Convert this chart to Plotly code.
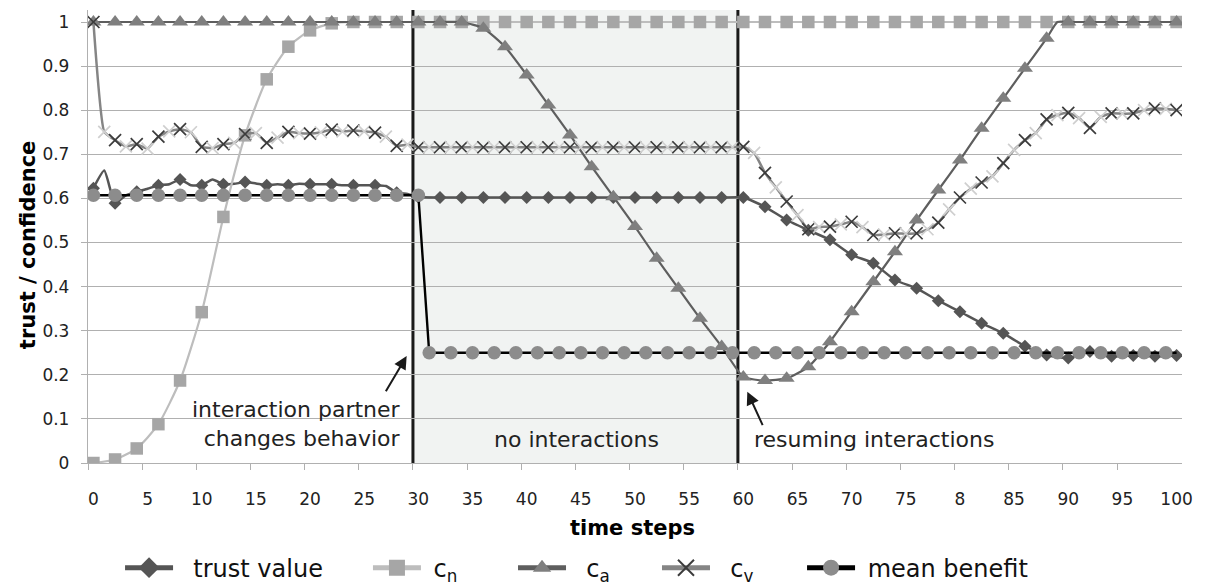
import plotly.graph_objects as go

FONT = "DejaVu Sans"

# ---------------- data ----------------
x_tick_values = [0, 5, 10, 15, 20, 25, 30, 35, 40, 45, 50, 55, 60, 65, 70, 75, 80, 85, 90, 95, 100]
x_tick_labels = ["0", "5", "10", "15", "20", "25", "30", "35", "40", "45", "50", "55", "60",
                 "65", "70", "75", "8", "85", "90", "95", "100"]
y_tick_values = [0, 0.1, 0.2, 0.3, 0.4, 0.5, 0.6, 0.7, 0.8, 0.9, 1.0]
y_tick_labels = ["0", "0.1", "0.2", "0.3", "0.4", "0.5", "0.6", "0.7", "0.8", "0.9", "1"]

phase_boundaries = [29.5, 59.5]

trust_steps = list(range(0, 31)) + list(range(32, 101, 2))
trust_values = [0.623, 0.663, 0.589, 0.607, 0.615, 0.622, 0.630, 0.632, 0.643, 0.630,
                0.630, 0.643, 0.632, 0.633, 0.637, 0.634, 0.630, 0.632, 0.630, 0.633,
                0.632, 0.632, 0.632, 0.630, 0.630, 0.630, 0.630, 0.628, 0.613, 0.610,
                0.603,
                0.602, 0.602, 0.602, 0.602, 0.602, 0.602, 0.602, 0.602, 0.602, 0.602,
                0.602, 0.602, 0.602, 0.602, 0.602,
                0.581, 0.551, 0.528, 0.506, 0.472, 0.453, 0.415, 0.396, 0.368, 0.343,
                0.317, 0.294, 0.265, 0.245, 0.238, 0.253, 0.242, 0.244, 0.242, 0.244]

cn_steps = list(range(0, 101, 2))
cn_values = [0.0, 0.008, 0.033, 0.088, 0.187, 0.342, 0.558, 0.743, 0.870, 0.944,
             0.981, 0.997, 1.0, 1.0, 1.0, 1.0, 1.0, 1.0, 1.0, 1.0,
             1.0, 1.0, 1.0, 1.0, 1.0, 1.0, 1.0, 1.0, 1.0, 1.0,
             1.0, 1.0, 1.0, 1.0, 1.0, 1.0, 1.0, 1.0, 1.0, 1.0,
             1.0, 1.0, 1.0, 1.0, 1.0, 1.0, 1.0, 1.0, 1.0, 1.0, 1.0]

ca_steps = list(range(0, 89, 2)) + [89] + list(range(90, 101, 2))
ca_values = [1.0, 1.0, 1.0, 1.0, 1.0, 1.0, 1.0, 1.0, 1.0, 1.0,
             1.0, 1.0, 1.0, 1.0, 1.0, 1.0, 1.0, 1.0,
             0.986, 0.944, 0.880, 0.812, 0.744, 0.672, 0.604, 0.536, 0.464, 0.396,
             0.328, 0.264, 0.195, 0.187, 0.192, 0.218, 0.275, 0.343, 0.411, 0.479,
             0.551, 0.619, 0.687, 0.759, 0.827, 0.895, 0.963,
             1.0,
             1.0, 1.0, 1.0, 1.0, 1.0, 1.0]

cv_steps = list(range(0, 101))
cv_values = [1.0, 0.751, 0.732, 0.718, 0.723, 0.713, 0.740, 0.752, 0.757, 0.750,
             0.717, 0.714, 0.723, 0.726, 0.746, 0.748, 0.726, 0.738, 0.751, 0.748,
             0.747, 0.750, 0.756, 0.752, 0.754, 0.752, 0.749, 0.740, 0.719, 0.722,
             0.716,
             0.716, 0.716, 0.716, 0.716, 0.716, 0.716, 0.716, 0.716, 0.716, 0.716,
             0.716, 0.716, 0.716, 0.716, 0.716, 0.716, 0.716, 0.716, 0.716, 0.716,
             0.716, 0.716, 0.716, 0.716, 0.716, 0.716, 0.716, 0.716, 0.716,
             0.717, 0.703, 0.658, 0.625, 0.593, 0.562, 0.530, 0.535, 0.536, 0.541,
             0.547, 0.535, 0.517, 0.518, 0.521, 0.520, 0.521, 0.530, 0.545, 0.575,
             0.602, 0.622, 0.636, 0.650, 0.680, 0.710, 0.732, 0.748, 0.779, 0.789,
             0.794, 0.782, 0.760, 0.785, 0.793, 0.792, 0.793, 0.800, 0.804, 0.803,
             0.800]

mean_steps = list(range(0, 31, 2)) + list(range(31, 100, 2)) + [100]
mean_values = [0.607, 0.607, 0.607, 0.607, 0.607, 0.607, 0.607, 0.607,
               0.607, 0.607, 0.607, 0.607, 0.607, 0.607, 0.607, 0.607,
               0.250, 0.250, 0.250, 0.250, 0.250, 0.250, 0.250, 0.250, 0.250, 0.250,
               0.250, 0.250, 0.250, 0.250, 0.250, 0.250, 0.250, 0.250, 0.250, 0.250,
               0.250, 0.250, 0.250, 0.250, 0.250, 0.250, 0.250, 0.250, 0.250, 0.250,
               0.250, 0.250, 0.250, 0.250, 0.250,
               0.250]

# ---------------- styles ----------------
TRANSPARENT = "rgba(0,0,0,0)"
C_TRUST = "#555555"
C_CN_M, C_CN_L = "#A6A6A6", "#BDBDBD"
C_CA_M, C_CA_L = "#7F7F7F", "#5E5E5E"
C_CV_M, C_CV_L, C_CV_LIGHT = "#3C3C3C", "#858585", "#CFCFCF"
C_MB_M, C_MB_L = "#8C8C8C", "#000000"
GRID = "#B0B0B0"

fig = go.Figure()

# shaded "no interactions" region and phase boundaries
fig.add_shape(type="rect", xref="x", yref="paper", x0=phase_boundaries[0], x1=phase_boundaries[1],
              y0=0, y1=1, fillcolor="#F1F3F2", line=dict(width=0), layer="below")
for xb in phase_boundaries:
    fig.add_shape(type="line", xref="x", yref="paper", x0=xb, x1=xb, y0=0, y1=1,
                  line=dict(color="#1A1A1A", width=3), layer="between")

# trust value
fig.add_trace(go.Scatter(
    x=trust_steps, y=trust_values, mode="lines+markers", showlegend=False,
    line=dict(color=C_TRUST, width=2.5, shape="spline", smoothing=0.5),
    marker=dict(symbol="diamond", size=10,
                color=[C_TRUST if s % 2 == 0 else TRANSPARENT for s in trust_steps])))

# c_n
fig.add_trace(go.Scatter(
    x=cn_steps, y=cn_values, mode="lines+markers", showlegend=False,
    line=dict(color=C_CN_L, width=2.2, shape="spline", smoothing=0.6),
    marker=dict(symbol="square", size=12.5, color=C_CN_M)))

# c_a
fig.add_trace(go.Scatter(
    x=ca_steps, y=ca_values, mode="lines+markers", showlegend=False,
    line=dict(color=C_CA_L, width=2.2, shape="spline", smoothing=0.5),
    marker=dict(symbol="triangle-up", size=14,
                color=[C_CA_M if s % 2 == 0 else TRANSPARENT for s in ca_steps])))

# c_v
fig.add_trace(go.Scatter(
    x=cv_steps, y=cv_values, mode="lines+markers", showlegend=False,
    line=dict(color=C_CV_L, width=2.5, shape="spline", smoothing=0.4),
    marker=dict(symbol="x-thin", size=12,
                line=dict(width=1.7,
                          color=[C_CV_M if s % 2 == 0 else C_CV_LIGHT for s in cv_steps]))))

# mean benefit
fig.add_trace(go.Scatter(
    x=mean_steps, y=mean_values, mode="lines+markers", showlegend=False,
    line=dict(color=C_MB_L, width=2.4),
    marker=dict(symbol="circle", size=13.5,
                color=[C_MB_M if s != 100 else TRANSPARENT for s in mean_steps])))

# legend entries (larger symbols as in the reference legend), each placed individually
NB = "\u00a0"
legend_specs = [
    ("legend", 0.0293, NB + NB + "trust value", C_TRUST, dict(symbol="diamond", size=16, color=C_TRUST)),
    ("legend2", 0.2559, NB + "c<sub>n</sub>", C_CN_L, dict(symbol="square", size=21, color=C_CN_M)),
    ("legend3", 0.3885, NB + NB + "c<sub>a</sub>", C_CA_L, dict(symbol="triangle-up", size=22, color=C_CA_M)),
    ("legend4", 0.5201, NB + NB + "c<sub>v</sub>", C_CV_L,
     dict(symbol="x-thin", size=19, line=dict(width=2, color=C_CV_M))),
    ("legend5", 0.6527, NB + "mean benefit", C_MB_L, dict(symbol="circle", size=21, color=C_MB_M)),
]
legend_layouts = {}
for lg, lx, name, lc, mk in legend_specs:
    fig.add_trace(go.Scatter(x=[None], y=[None], mode="lines+markers", name=name, legend=lg,
                             line=dict(color=lc, width=5), marker=mk))
    legend_layouts[lg] = dict(orientation="h", x=lx, xanchor="left", y=-0.232, yanchor="middle",
                              font=dict(family=FONT, size=24, color="#111111"), itemwidth=48,
                              bgcolor="rgba(0,0,0,0)")

# annotations
ann_font = dict(family=FONT, size=22, color="#222222")
fig.add_annotation(x=28.6, y=0.088, xref="x", yref="y", text="interaction partner<br>changes behavior",
                   showarrow=False, xanchor="right", yanchor="middle", align="right", font=ann_font)
fig.add_annotation(x=44.56, y=0.054, xref="x", yref="y", text="no interactions",
                   showarrow=False, xanchor="center", yanchor="middle", font=ann_font)
fig.add_annotation(x=60.8, y=0.054, xref="x", yref="y", text="resuming interactions",
                   showarrow=False, xanchor="left", yanchor="middle", font=ann_font)
fig.add_annotation(x=28.92, y=0.2426, xref="x", yref="y", text="", showarrow=True,
                   ax=-21.7, ay=36.7, arrowhead=2, arrowsize=1.3, arrowwidth=2, arrowcolor="#1A1A1A")
fig.add_annotation(x=60.37, y=0.1617, xref="x", yref="y", text="", showarrow=True,
                   ax=16, ay=35, arrowhead=2, arrowsize=1.3, arrowwidth=2, arrowcolor="#1A1A1A")

# axis titles
fig.add_annotation(x=0.498, y=-0.1435, xref="paper", yref="paper", text="<b>time steps</b>",
                   showarrow=False, xanchor="center", yanchor="middle",
                   font=dict(family=FONT, size=21, color="#000000"))
fig.add_annotation(x=-0.0548, y=0.481, xref="paper", yref="paper", text="<b>trust / confidence</b>",
                   showarrow=False, xanchor="center", yanchor="middle", textangle=-90,
                   font=dict(family=FONT, size=21, color="#000000"))

fig.update_layout(
    width=1207, height=585,
    margin=dict(l=88, r=25, t=10, b=122, autoexpand=False),
    paper_bgcolor="white", plot_bgcolor="white",
    font=dict(family=FONT, size=17, color="#222222"),
    xaxis=dict(range=[-0.5, 100.5], tickmode="array", tickvals=x_tick_values, ticktext=x_tick_labels,
               ticks="", showgrid=False, zeroline=False, showline=True, linecolor=GRID, linewidth=1.3,
               ticklabelstandoff=20, tickfont=dict(family=FONT, size=17, color="#222222"),
               automargin=False,
               minor=dict(tickmode="array", tickvals=[v - 0.5 for v in x_tick_values[:-1]],
                          ticks="outside", ticklen=6, tickcolor=GRID, tickwidth=1.3, showgrid=False)),
    yaxis=dict(range=[0, 1.0272], tickmode="array", tickvals=y_tick_values, ticktext=y_tick_labels,
               ticks="outside", ticklen=6, tickcolor=GRID, tickwidth=1.3,
               showgrid=True, gridcolor=GRID, gridwidth=1.3, zeroline=False, automargin=False,
               showline=True, linecolor=GRID, linewidth=1.3, ticklabelstandoff=8,
               tickfont=dict(family=FONT, size=17, color="#222222")),
    **legend_layouts,
)

fig.write_html("out.html")
